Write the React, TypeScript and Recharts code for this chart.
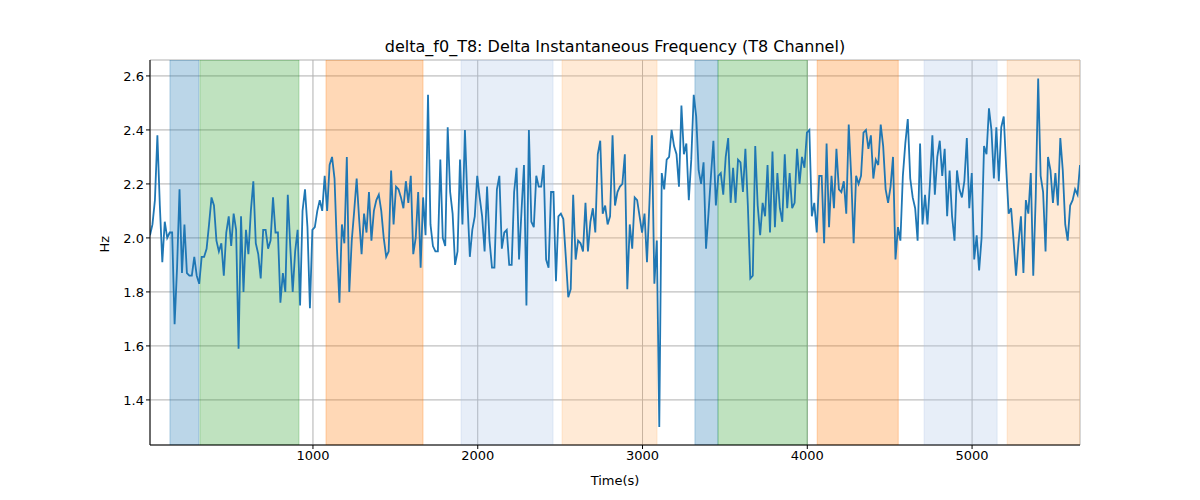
import { CartesianGrid, Line, LineChart, ReferenceArea, XAxis, YAxis } from 'recharts'

const seg1 = [2.01, 2.05, 2.14, 2.38, 2.12, 1.91, 2.06, 2.0, 2.02, 2.02, 1.68, 1.89, 2.18, 1.87, 2.05, 1.87, 1.86, 1.86, 1.93, 1.86, 1.83, 1.93, 1.93, 1.96, 2.05, 2.15, 2.12, 1.99, 1.95, 1.98, 1.86, 2.02, 2.08, 1.97, 2.09, 2.03, 1.59, 2.08, 1.8, 2.03, 1.94, 2.1, 2.21, 1.98, 1.94, 1.85, 2.03, 2.03, 1.96, 1.99, 2.15, 2.02, 2.02, 1.76, 1.87, 1.8, 2.16, 1.97, 1.8, 1.95, 2.03, 1.75, 2.1, 2.18, 2.04, 1.74]
const seg2 = [2.03, 2.04, 2.1, 2.14, 2.1, 2.23, 2.1, 2.27, 2.3, 2.22, 1.96, 1.76, 2.05, 1.98, 2.3, 1.8, 1.99, 2.1, 2.22, 2.07, 1.94, 2.09, 2.02, 2.17, 1.99, 2.1, 2.14, 2.16, 2.1, 2.0, 1.93, 1.95, 2.25, 2.05, 2.19, 2.18, 2.15, 2.11, 2.21, 2.13, 2.23, 1.94, 2.0, 2.17, 1.89, 2.15, 2.01, 2.53, 2.05, 1.97, 1.95, 1.95, 2.29, 2.0, 1.97, 2.41, 2.17, 2.09, 1.9, 1.95, 2.29, 2.05]
const seg3 = [2.4, 2.14, 1.93, 2.03, 2.08, 2.23, 2.15, 2.08, 1.95, 2.19, 1.99, 1.89, 1.89, 2.18, 2.23, 1.96, 2.02, 2.03, 1.9, 1.9, 2.17, 2.26, 1.92, 2.1, 2.27, 1.75, 2.4, 2.06, 2.04, 2.23, 2.19, 2.19, 2.27, 1.92, 1.89, 2.17, 2.17, 1.84, 2.08, 2.09, 2.07, 1.93, 1.78, 1.81, 2.16, 1.92, 1.99, 1.98, 1.95, 2.13, 1.95, 2.06, 2.11, 2.02, 2.31, 2.36, 2.09, 2.12, 2.05, 2.08, 2.38, 2.12, 2.17, 2.19]
const seg4 = [2.2, 2.31, 1.81, 2.05, 1.96, 2.15, 2.14, 2.08, 2.02, 2.09, 1.91, 2.13, 2.38, 1.83, 1.99, 1.3, 2.24, 2.18, 2.29, 2.3, 2.4, 2.34, 2.31, 2.19, 2.49, 2.31, 2.35, 2.14, 2.29, 2.53, 2.45, 2.25, 2.2, 2.28, 1.96, 2.09, 2.23, 2.36, 2.12, 2.23, 2.24, 2.16, 2.3, 2.37, 2.13, 2.26, 2.13, 2.29, 2.28, 2.17, 2.33, 2.12, 1.85, 1.86, 2.34, 2.12, 2.01, 2.13, 2.08, 2.27, 2.02, 2.32, 2.04]
const seg5 = [2.24, 2.11, 2.06, 2.31, 2.11, 2.24, 2.11, 2.13, 2.33, 2.2, 2.3, 2.26, 2.39, 2.4, 2.08, 2.13, 2.02, 2.23, 2.23, 1.98, 2.35, 2.04, 2.23, 2.11, 2.33, 2.18, 2.17, 2.21, 2.09, 2.42, 2.23, 1.98, 2.23, 2.2, 2.23, 2.39, 2.4, 2.33, 2.38, 2.22, 2.29, 2.27, 2.42, 2.34, 2.18, 2.13, 2.19, 2.3, 1.92, 2.04, 1.99, 2.23, 2.35, 2.44, 2.22, 2.15, 2.11, 1.99, 2.35, 2.05, 2.16, 2.05, 2.2]
const seg6 = [2.38, 2.16, 2.3, 2.36, 2.23, 2.33, 2.08, 2.25, 2.08, 1.99, 2.25, 2.18, 2.15, 2.21, 2.37, 2.11, 2.24, 1.92, 2.01, 1.88, 2.0, 2.34, 2.31, 2.48, 2.4, 2.22, 2.41, 2.21, 2.41, 2.45, 2.26, 2.09, 2.11, 1.99, 1.86, 1.98, 2.08, 1.87, 2.14, 2.09, 2.24, 1.86, 2.15, 2.59, 2.23, 2.17, 1.95, 2.3, 2.25, 2.13, 2.24, 2.12, 2.37, 2.25, 2.05, 1.99, 2.12, 2.14, 2.18, 2.16, 2.27]

const hzValues = [...seg1, ...seg2, ...seg3, ...seg4, ...seg5, ...seg6]
const tStart = 11
const tEnd = 5655

const xTicks = [1000, 2000, 3000, 4000, 5000]
const yTicks = [1.4, 1.6, 1.8, 2.0, 2.2, 2.4, 2.6]

// [start, end, color, opacity]
const bands: [number, number, string, number][] = [
  [132, 308, '#1f77b4', 0.3],
  [314, 915, '#2ca02c', 0.3],
  [1079, 1668, '#ff7f0e', 0.3],
  [1899, 2457, '#aec7e8', 0.3],
  [2512, 3088, '#ffbb78', 0.3],
  [3318, 3458, '#1f77b4', 0.3],
  [3458, 4000, '#2ca02c', 0.3],
  [4060, 4552, '#ff7f0e', 0.3],
  [4709, 5152, '#aec7e8', 0.3],
  [5213, 5655, '#ffbb78', 0.3],
]

const step = (tEnd - tStart) / (hzValues.length - 1)
const chartData = hzValues.map((hz, i) => ({ t: tStart + i * step, hz }))

const font = 'DejaVu Sans, sans-serif'
const tickStyle = { fill: '#000', fontSize: 13, fontFamily: font }

export default function App() {
  return (
    <div style={{ position: 'absolute', left: 0, top: 0, width: 1200, height: 500, background: '#fff' }}>
      <div
        style={{
          position: 'absolute',
          top: 37,
          width: 1230,
          textAlign: 'center',
          fontFamily: font,
          fontSize: 16,
        }}
      >
        delta_f0_T8: Delta Instantaneous Frequency (T8 Channel)
      </div>
      <LineChart
        width={1200}
        height={500}
        data={chartData}
        margin={{ top: 60, right: 120, left: 90, bottom: 25 }}
      >
        {bands.map(([x1, x2, c, o], i) => (
          <ReferenceArea key={i} x1={x1} x2={x2} fill={c} fillOpacity={o} stroke={c} strokeOpacity={o} ifOverflow="hidden" />
        ))}
        <CartesianGrid stroke="#b0b0b0" strokeWidth={1} />
        <XAxis
          dataKey="t"
          type="number"
          domain={[tStart, tEnd]}
          ticks={xTicks}
          allowDataOverflow
          height={30}
          stroke="#000"
          tick={tickStyle}
          tickSize={4}
          label={{ value: 'Time(s)', position: 'insideBottom', offset: -10, style: tickStyle }}
        />
        <XAxis xAxisId="top" orientation="top" dataKey="t" type="number" domain={[tStart, tEnd]} height={0} tick={false} tickLine={false} stroke="#000" />
        <YAxis
          type="number"
          domain={[1.233, 2.659]}
          ticks={yTicks}
          allowDataOverflow
          width={60}
          stroke="#000"
          tick={tickStyle}
          tickSize={4}
          tickFormatter={(v: number) => v.toFixed(1)}
          label={{ value: 'Hz', angle: -90, position: 'insideLeft', offset: 14, style: tickStyle }}
        />
        <YAxis yAxisId="right" orientation="right" domain={[1.233, 2.659]} width={0} tick={false} tickLine={false} stroke="#000" />
        <Line
          type="linear"
          dataKey="hz"
          stroke="#1f77b4"
          strokeWidth={1.8}
          dot={false}
          isAnimationActive={false}
        />
      </LineChart>
    </div>
  )
}
